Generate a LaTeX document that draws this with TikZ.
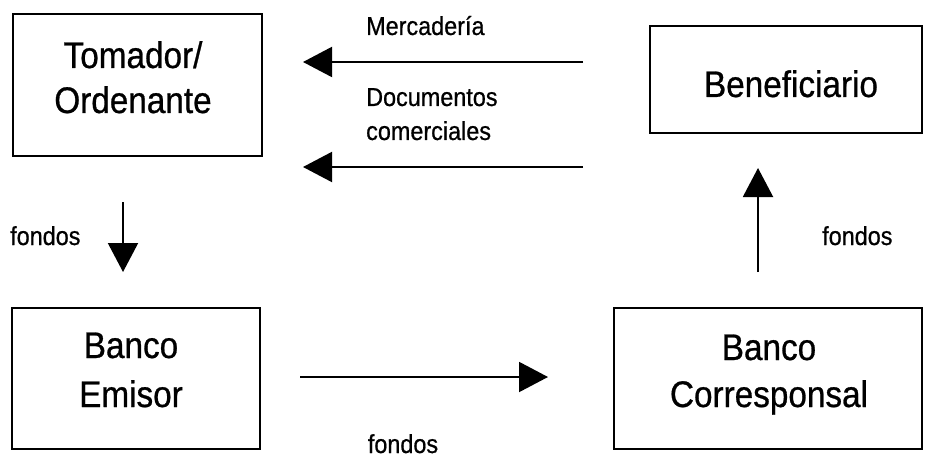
\documentclass[tikz,border=0pt]{standalone}
\usepackage{fontspec}
\setmainfont[FakeStretch=0.9,FakeBold=0.7]{Liberation Sans}
\usetikzlibrary{arrows.meta}
\begin{document}
\begin{tikzpicture}[x=1pt,y=-1pt,
  box/.style={draw, line width=2.4pt, inner sep=0pt},
  boxtxt/.style={inner sep=0pt, align=center, font=\fontsize{37}{47}\selectfont},
  lbl/.style={inner sep=0pt, font=\fontsize{26}{34}\selectfont},
  arr/.style={line width=2pt, -{Triangle[length=29pt,width=30pt]}}]
\useasboundingbox (0,0) rectangle (925,457);
% boxes
\node[box, minimum width=249pt, minimum height=142pt] (tom) at (137.5,85) {};
\node[box, minimum width=272pt, minimum height=107pt] (ben) at (786,79.5) {};
\node[box, minimum width=248pt, minimum height=141pt] (emi) at (136,378.5) {};
\node[box, minimum width=308pt, minimum height=141pt] (cor) at (768,378.5) {};
\node[boxtxt, anchor=base, font=\fontsize{37}{45}\selectfont] (tomt) at (133,113) {Tomador/\\Ordenante};
\node[boxtxt, anchor=base] (bent) at (791,97) {Beneficiario};
\node[boxtxt, anchor=base, font=\fontsize{37}{49}\selectfont] (emit) at (131,407) {Banco\\Emisor};
\node[boxtxt, anchor=base] (cort) at (769,407) {Banco\\Corresponsal};
% arrow end points
\coordinate (m1) at (583,62);  \coordinate (m2) at (303,62);
\coordinate (d1) at (583,167); \coordinate (d2) at (303,167);
\coordinate (f1) at (123,202); \coordinate (f2) at (123,272);
\coordinate (b1) at (300,377); \coordinate (b2) at (548,377);
\coordinate (r1) at (758,272); \coordinate (r2) at (758,168);
\draw[arr] (m1) -- (m2);
\draw[arr] (d1) -- (d2);
\draw[arr] (f1) -- (f2);
\draw[arr] (b1) -- (b2);
\draw[arr] (r1) -- (r2);
% labels
\node[lbl, anchor=base west] (lm) at (366,35) {Mercadería};
\node[lbl, anchor=base west, align=left] (ld) at (366,140) {Documentos\\comerciales};
\node[lbl, anchor=base west] (lf1) at (10,245) {fondos};
\node[lbl, anchor=base west] (lf2) at (822,245) {fondos};
\node[lbl, anchor=base] (lf3) at (403,453) {fondos};
\end{tikzpicture}
\end{document}
